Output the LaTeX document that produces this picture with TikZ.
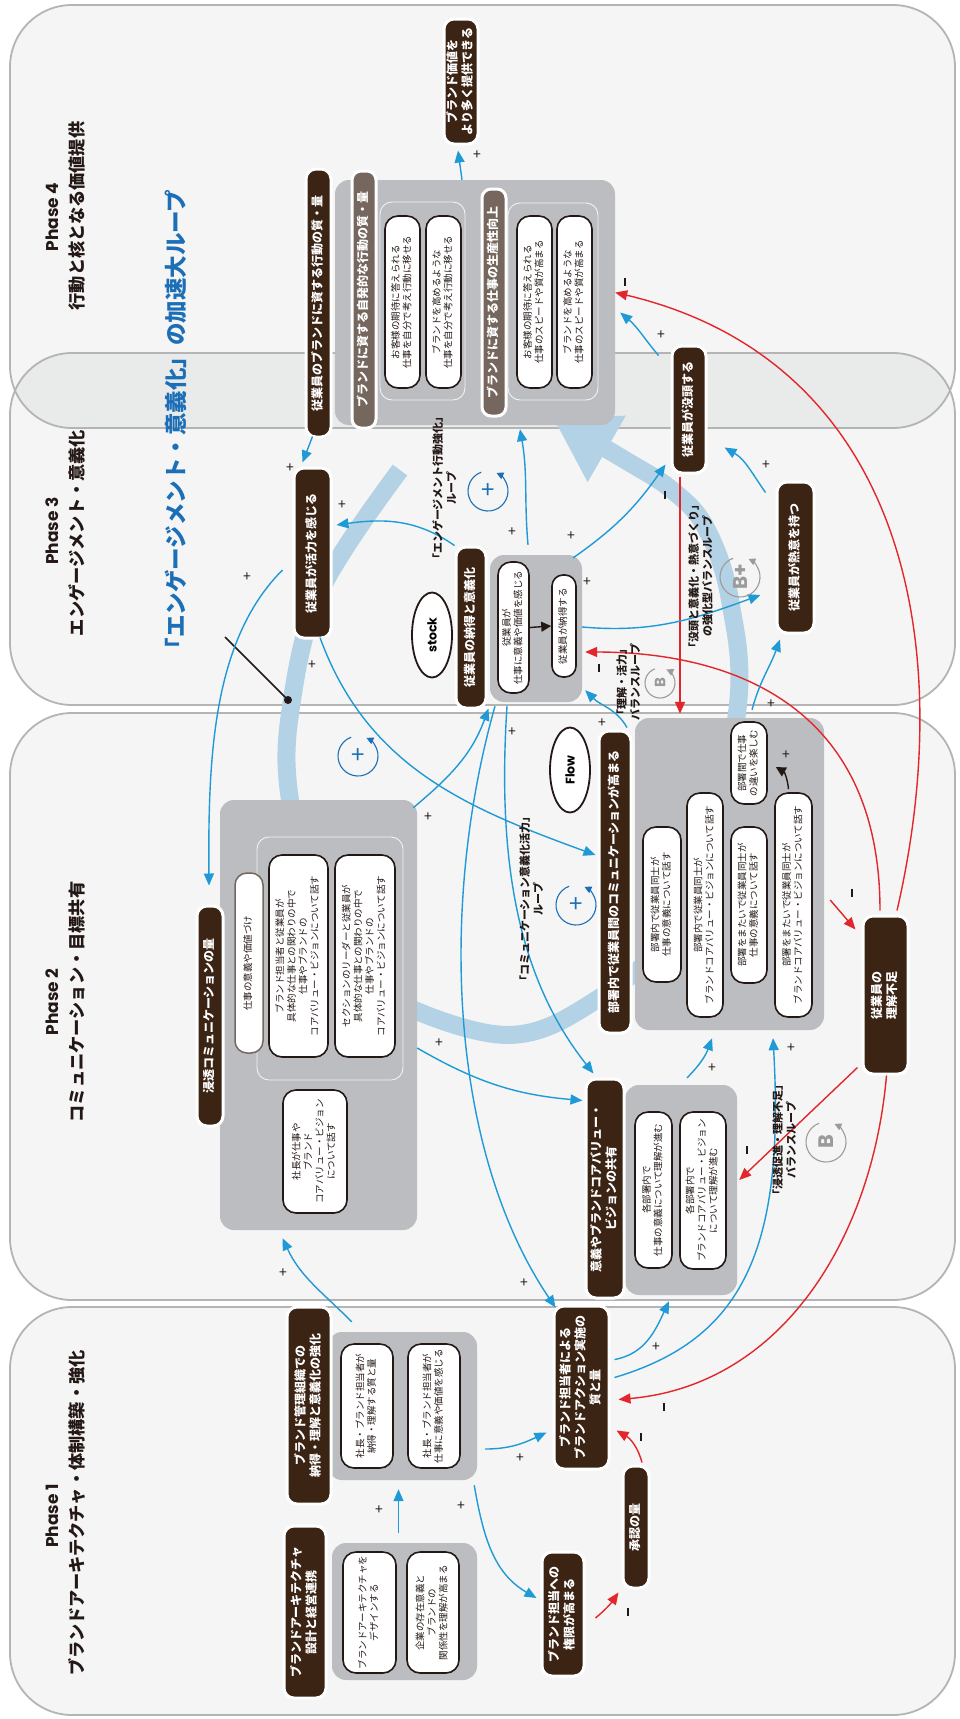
\documentclass[tikz,border=0pt]{standalone}
\usepackage{graphicx}
\usepackage{fontspec}
\setmainfont{Noto Sans CJK JP}
\newfontfamily\pop{Poppins}
\usetikzlibrary{arrows.meta,calc,shapes.geometric}

\definecolor{brn}{HTML}{3C2415}
\definecolor{lbl}{HTML}{75675D}
\definecolor{grp}{HTML}{BBBDC0}
\definecolor{pnl}{HTML}{F4F5F4}
\definecolor{pnlov}{HTML}{E9EAEA}
\definecolor{pnlb}{HTML}{B4B4B4}
\definecolor{ablue}{HTML}{1F9AD6}
\definecolor{ared}{HTML}{E2262B}
\definecolor{bandc}{HTML}{B3D2E5}
\definecolor{tblue}{HTML}{1C6FB6}
\definecolor{ink}{HTML}{231815}
\definecolor{mgray}{HTML}{9B9B9B}

% rotated, centred multi-line text
\newcommand{\rt}[1]{\rotatebox{90}{\begin{tabular}{@{}c@{}}#1\end{tabular}}}

\begin{document}
\begin{tikzpicture}[x=1pt,y=-1pt,
  panelfill/.style={fill=pnl, rounded corners=62pt},
  panelline/.style={draw=pnlb, line width=1.8pt, rounded corners=62pt},
  bnode/.style={fill=brn, draw=white, line width=3pt, rounded corners=10pt, text=white,
    font=\bfseries\fontsize{12}{15}\selectfont, inner sep=0pt},
  lblbox/.style={fill=lbl, draw=white, line width=3pt, rounded corners=9pt, text=white,
    font=\bfseries\fontsize{12}{14}\selectfont, inner sep=0pt},
  kbox/.style={fill=white, draw=lbl, line width=1.5pt, rounded corners=12pt, text=ink,
    font=\fontsize{9.5}{11.5}\selectfont, inner sep=0pt},
  pill/.style={fill=white, draw=ink, line width=1.6pt, rounded corners=13pt, text=ink,
    font=\fontsize{9.5}{11.6}\selectfont, inner sep=0pt},
  grpbox/.style={fill=grp, rounded corners=14pt, inner sep=0pt},
  subbox/.style={fill=grp, draw=white!80!grp, line width=0.9pt, rounded corners=12pt, inner sep=0pt},
  oval/.style={ellipse, fill=white, draw=ink, line width=1.8pt, minimum width=40pt,
    minimum height=85pt, inner sep=0pt, font=\pop\bfseries\fontsize{12.5}{13}\selectfont},
  barrow/.style={draw=ablue, line width=1.4pt, -{Triangle[length=12pt,width=10pt]}},
  rarrow/.style={draw=ared, line width=1.4pt, -{Triangle[length=12pt,width=10pt]}},
  karrow/.style={draw=ink, line width=1.4pt, -{Triangle[length=10pt,width=10pt]}},
  pol/.style={font=\fontsize{14}{14}\selectfont, text=ink, inner sep=0pt},
  neg/.style={fill=ink, minimum width=2.4pt, minimum height=8pt, inner sep=0pt},
  looplbl/.style={font=\bfseries\fontsize{11}{13.5}\selectfont, text=ink, inner sep=0pt},
  loopblue/.style={draw=tblue, line width=1.1pt, -{Triangle[length=7pt,width=7pt]}},
  loopgray/.style={draw=mgray, line width=1.1pt, -{Triangle[length=7pt,width=7pt]}},
  phn/.style={font=\pop\bfseries\fontsize{17}{17}\selectfont, text=ink, inner sep=0pt},
  pht/.style={font=\bfseries\fontsize{17.2}{17.2}\selectfont, text=ink, inner sep=0pt},
  bandpath/.style={draw=bandc, line width=18pt, -{Triangle[length=62pt,width=72pt]}}
]
\useasboundingbox (0,0) rectangle (960,1719);
\fill[white] (0,0) rectangle (960,1719);

% ---------- phase panels ----------
\fill[panelfill] (10,5) rectangle (955,428);
\fill[panelfill] (10,353) rectangle (955,705);
\fill[panelfill] (10,713) rectangle (955,1300);
\fill[panelfill] (10,1307) rectangle (955,1715);
\begin{scope}
  \clip[rounded corners=62pt] (10,5) rectangle (955,428);
  \fill[pnlov, rounded corners=62pt] (10,353) rectangle (955,705);
\end{scope}
\draw[panelline] (10,5) rectangle (955,428);
\draw[panelline] (10,353) rectangle (955,705);
\draw[panelline] (10,713) rectangle (955,1300);
\draw[panelline] (10,1307) rectangle (955,1715);

% ---------- phase titles ----------
\node[phn] (ph4) at (52,217) {\rotatebox{90}{Phase 4}};
\node[pht] (ph4t) at (77,216) {\rotatebox{90}{行動と核となる価値提供}};
\node[phn] (ph3) at (52,531) {\rotatebox{90}{Phase 3}};
\node[pht] (ph3t) at (77,533) {\rotatebox{90}{エンゲージメント・意義化}};
\node[phn] (ph2) at (52,1002) {\rotatebox{90}{Phase 2}};
\node[pht] (ph2t) at (77,1002) {\rotatebox{90}{コミュニケーション・目標共有}};
\node[phn] (ph1) at (52,1516) {\rotatebox{90}{Phase 1}};
\node[pht] (ph1t) at (77,1513) {\rotatebox{90}{ブランドアーキテクチャ・体制構築・強化}};

\node[font=\bfseries\fontsize{22.5}{22.5}\selectfont, text=tblue, inner sep=0pt] (title) at (176,425)
  {\rotatebox{90}{「エンゲージメント・意義化」の加速大ループ}};

% ---------- the big accelerating loop ----------
\draw[bandpath] plot[smooth, tension=0.6] coordinates {(400,470) (322,588) (292,700) (290,800)
  (330,955) (487,1033) (593,1002) (690,905) (737,713) (730,600) (706,528) (672,490) (625,460) (553,418)};

% pointer from the title to the loop
\coordinate (ptrA) at (225,637);
\coordinate (ptrB) at (288,700);
\draw[line width=1.5pt, ink] (ptrA) -- (ptrB);
\fill[ink] (ptrB) circle[radius=4pt];

% ---------- Phase 4 ----------
\node[bnode, minimum width=34pt, minimum height=125pt] (val) at (461,81.5) {\rt{ブランド価値を\\より多く提供できる}};
\node[bnode, minimum width=25pt, minimum height=268pt] (act) at (318.5,303) {\rt{従業員のブランドに資する行動の質・量}};
\node[grpbox, minimum width=280pt, minimum height=245pt] (g4) at (475,302.5) {};
\node[subbox, minimum width=85pt, minimum height=198pt] (sub4a) at (422.5,301) {};
\node[subbox, minimum width=90pt, minimum height=197pt] (sub4b) at (553,301.5) {};
\node[lblbox, minimum width=24pt, minimum height=257pt] (lab4a) at (364,299.5) {\rt{ブランドに資する自発的な行動の質・量}};
\node[lblbox, minimum width=24pt, minimum height=227pt] (lab4b) at (494,302.5) {\rt{ブランドに資する仕事の生産性向上}};
\node[pill, minimum width=35pt, minimum height=172pt] (p4a1) at (402.5,302) {\rt{お客様の期待に答えられる\\仕事を自分で考え行動に移せる}};
\node[pill, minimum width=35pt, minimum height=172pt] (p4a2) at (443.5,302) {\rt{ブランドを高めるような\\仕事を自分で考え行動に移せる}};
\node[pill, minimum width=35pt, minimum height=172pt] (p4b1) at (534.5,302) {\rt{お客様の期待に答えられる\\仕事のスピードや質が高まる}};
\node[pill, minimum width=35pt, minimum height=172pt] (p4b2) at (574.5,302) {\rt{ブランドを高めるような\\仕事のスピードや質が高まる}};

% ---------- Phase 3 ----------
\node[bnode, minimum width=34pt, minimum height=127pt] (botto) at (689,409.5) {\rt{従業員が没頭する}};
\node[bnode, minimum width=37pt, minimum height=151pt] (netsui) at (795.5,557.5) {\rt{従業員が熱意を持つ}};
\node[bnode, minimum width=37pt, minimum height=170pt] (katsu) at (312.5,553) {\rt{従業員が活力を感じる}};
\node[bnode, minimum width=30pt, minimum height=161pt] (natoku) at (471,627.5) {\rt{従業員の納得と意義化}};
\node[grpbox, minimum width=92pt, minimum height=147pt] (gstock) at (536,628.5) {};
\node[pill, minimum width=31pt, minimum height=131pt] (s1) at (513.5,627.5) {\rt{従業員が\\仕事に意義や価値を感じる}};
\node[pill, minimum width=24pt, minimum height=102pt, rounded corners=11pt] (s2) at (564,626) {\rt{従業員が納得する}};
\node[oval] (stock) at (432,635) {\rotatebox{90}{stock}};
\node[oval] (flow) at (570,770) {\rotatebox{90}{Flow}};

% ---------- Phase 2 ----------
\node[grpbox, minimum width=189pt, minimum height=312pt] (gflow) at (729.5,874) {};
\node[bnode, minimum width=32pt, minimum height=302pt] (comm) at (615,882) {\rt{部署内で従業員間のコミュニケーションが高まる}};
\node[pill, minimum width=36pt, minimum height=82pt] (f0) at (749,763) {\rt{部署間で仕事\\の違いを楽しむ}};
\node[pill, minimum width=38pt, minimum height=155pt] (f1) at (662,904.5) {\rt{部署内で従業員同士が\\仕事の意義について話す}};
\node[pill, minimum width=36pt, minimum height=224pt] (f2) at (705,905) {\rt{部署内で従業員同士が\\ブランドコアバリュー・ビジョンについて話す}};
\node[pill, minimum width=36pt, minimum height=156pt] (f3) at (749,905) {\rt{部署をまたいで従業員同士が\\仕事の意義について話す}};
\node[pill, minimum width=37pt, minimum height=224pt] (f4) at (793.5,905) {\rt{部署をまたいで従業員同士が\\ブランドコアバリュー・ビジョンについて話す}};
\node[bnode, minimum width=45pt, minimum height=158pt] (rikai) at (885.5,995) {\rt{従業員の\\理解不足}};
\node[grpbox, minimum width=112pt, minimum height=210pt] (gkyoyu) at (681,1190) {};
\node[bnode, minimum width=38pt, minimum height=219pt] (kyoyu) at (605,1188.5) {\rt{意義やブランドコアバリュー・\\ビジョンの共有}};
\node[pill, minimum width=37pt, minimum height=156pt] (k1) at (653.5,1190) {\rt{各部署内で\\仕事の意義について理解が進む}};
\node[pill, minimum width=46pt, minimum height=157pt] (k2) at (703,1190.5) {\rt{各部署内で\\ブランドコアバリュー・ビジョン\\について理解が進む}};
\node[grpbox, minimum width=197pt, minimum height=430pt] (g2) at (318.5,1015) {};
\node[subbox, minimum width=146pt, minimum height=243pt] (sub2) at (330,958.5) {};
\node[bnode, minimum width=26pt, minimum height=220pt] (shinto) at (210,1016) {\rt{浸透コミュニケーションの量}};
\node[kbox, minimum width=28pt, minimum height=180pt] (kachi) at (249,963) {\rt{仕事の意義や価値づけ}};
\node[pill, minimum width=59pt, minimum height=202pt] (c1) at (298.5,956) {\rt{ブランド担当者と従業員が\\具体的な仕事との関わりの中で\\仕事やブランドの\\コアバリュー・ビジョンについて話す}};
\node[pill, minimum width=60pt, minimum height=202pt] (c2) at (365,956) {\rt{セクションのリーダーと従業員が\\具体的な仕事との関わりの中で\\仕事やブランドの\\コアバリュー・ビジョンについて話す}};
\node[pill, minimum width=64pt, minimum height=123pt] (shacho) at (315,1151.5) {\rt{社長が仕事や\\ブランド\\コアバリュー・ビジョン\\について話す}};

% ---------- Phase 1 ----------
\node[grpbox, minimum width=145pt, minimum height=137pt] (g1a) at (404.5,1611.5) {};
\node[grpbox, minimum width=149pt, minimum height=148pt] (g1b) at (402.5,1406) {};
\node[bnode, minimum width=42pt, minimum height=172pt] (arch) at (305,1612) {\rt{ブランドアーキテクチャ\\設計と経営連携}};
\node[bnode, minimum width=44pt, minimum height=197pt] (kanri) at (309,1405.5) {\rt{ブランド管理組織での\\納得・理解と意義化の強化}};
\node[pill, minimum width=53pt, minimum height=121pt] (a1) at (369.5,1612.5) {\rt{ブランドアーキテクチャを\\デザインする}};
\node[pill, minimum width=52pt, minimum height=121pt] (a2) at (433,1612.5) {\rt{企業の存在意義と\\ブランドの\\関係性を理解が高まる}};
\node[pill, minimum width=52pt, minimum height=124pt] (b1) at (367,1406) {\rt{社長・ブランド担当者が\\納得・理解する質と量}};
\node[pill, minimum width=52pt, minimum height=124pt] (b2) at (434,1406) {\rt{社長・ブランド担当者が\\仕事に意義や価値を感じる}};
\node[bnode, minimum width=55pt, minimum height=163pt] (tanto) at (581.5,1387.5) {\rt{ブランド担当者による\\ブランドアクション実施の\\質と量}};
\node[bnode, minimum width=42pt, minimum height=124pt] (kengen) at (563,1614) {\rt{ブランド担当への\\権限が高まる}};
\node[bnode, minimum width=26pt, minimum height=122pt] (shonin) at (636,1527) {\rt{承認の量}};

% ---------- connectors: Phase 1 ----------
\draw[barrow] ($(g1a.north)+(-6,-10)$) -- ($(g1b.south)+(-4,9)$);
\draw[barrow] ($(g1b.east)+(8,43)$) to[out=0,in=205] ($(tanto.west)+(-6,45)$);
\draw[barrow] ($(g1b.south east)+(-3,5)$) to[out=-80,in=150] ($(kengen.west)+(-4,-16)$);
\draw[rarrow] ($(kengen.east)+(10,4)$) to[out=40,in=235] ($(shonin.south west)+(-3,3)$);
\draw[rarrow] ($(shonin.north)+(6,-2)$) to[out=105,in=-30] ($(tanto.south east)+(6,-40)$);
\draw[rarrow] ($(rikai.south)+(1,0)$) to[out=-95,in=5] ($(tanto.east)+(8,12)$);
\draw[barrow] ($(tanto.east)+(4,-28)$) to[out=10,in=-115] ($(gkyoyu.south)+(-12,6)$);
\draw[barrow] ($(tanto.east)+(4,-10)$) .. controls +(128,-38) and +(12,212) .. ($(gflow.south)+(43.5,8)$);
\draw[barrow] ($(g1b.north west)+(24,-10)$) to[out=135,in=-65] ($(g2.south)+(-36,8)$);

% ---------- connectors: Phase 2 ----------
\draw[barrow] ($(gstock.south)+(-41,4)$) .. controls +(-55,194) and +(-108,-160) .. ($(tanto.north west)+(3,3)$);
\draw[barrow] ($(gstock.south)+(-29,4)$) .. controls +(-10,154) and +(-76,-96) .. ($(kyoyu.north west)+(9,-4)$);
\draw[barrow] ($(g2.north east)+(-4,8)$) to[out=40,in=-110] ($(natoku.south east)+(1,-1)$);
\draw[barrow] ($(g2.east)+(0,33)$) to[out=-30,in=175] ($(kyoyu.west)+(-2,-88)$);
\draw[barrow] ($(gkyoyu.north)+(6,-7)$) to[out=45,in=-110] ($(gflow.south)+(-17.5,8)$);
\draw[rarrow] ($(rikai.south west)+(-4,-8)$) -- ($(gkyoyu.east)+(2,-10)$);
\draw[rarrow] ($(gflow.east)+(6,26)$) -- ($(rikai.north west)+(-6,15)$);
\draw[karrow] ($(f4.north)+(-5,-3)$) to[out=95,in=-30] ($(f0.east)+(8,4)$);

% ---------- connectors: Phase 3 / 4 ----------
\draw[rarrow] ($(rikai.north)+(11.5,-4)$) .. controls +(63,-273) and +(285,67.5) .. ($(g4.east)+(0,-10)$);
\draw[rarrow] ($(rikai.north)+(-5.5,-4)$) .. controls +(0,-213) and +(135,0) .. ($(gstock.east)+(3,23.5)$);
\draw[rarrow] ($(botto.south)+(-9,2)$) -- ($(gflow.north)+(-49.5,-4)$);
\draw[barrow] ($(g4.north)+(-13,0)$) -- ($(val.south)+(-3,5)$);
\draw[barrow] ($(botto.north west)+(-12,11)$) to[out=130,in=-40] ($(g4.east)+(5,10)$);
\draw[barrow] ($(netsui.north west)+(-10,12)$) to[out=125,in=-30] ($(botto.east)+(17,38)$);
\draw[barrow] ($(gflow.north)+(22.5,-8)$) to[out=75,in=-110] ($(netsui.south)+(-15.5,5)$);
\draw[barrow] ($(gstock.east)+(0,-1.5)$) to[out=-5,in=200] ($(netsui.west)+(-15,37.5)$);
\draw[barrow] ($(gstock.north east)+(-9,3)$) to[out=35,in=235] ($(botto.south west)+(-5,-10)$);
\draw[barrow] ($(gstock.north)+(-8,-10)$) to[out=95,in=-80] ($(g4.south)+(45,4)$);
\draw[barrow] (natoku.north west) to[out=145,in=8] ($(katsu.east)+(4,-28)$);
\draw[barrow] ($(act.south)+(-6,-2)$) -- ($(katsu.north)+(-10,-4)$);
\draw[barrow] ($(katsu.west)+(-10,17)$) .. controls +(-70,70) and +(-1,-128) .. ($(shinto.north)+(-1,-19)$);
\draw[barrow] ($(katsu.south)+(7.5,-2)$) to[out=-70,in=160] ($(comm.west)+(-2,-27)$);
\draw[barrow] ($(comm.north)+(12,-2)$) to[out=120,in=-45] ($(gstock.south east)+(3,-12)$);
\draw[karrow] (s1.east) -- (s2.west);

% ---------- polarity marks ----------
\node[pol] (q1) at (379,1510) {+};
\node[pol] (q2) at (520,1458) {+};
\node[pol] (q3) at (461,1506) {+};
\node[pol] (q4) at (656,1347) {+};
\node[pol] (q5) at (791,1048) {+};
\node[pol] (q6) at (524,1283) {+};
\node[pol] (q7) at (512,732) {+};
\node[pol] (q8) at (428,817) {+};
\node[pol] (q9) at (439,1043) {+};
\node[pol] (q10) at (712,1068) {+};
\node[pol] (q11) at (477,155) {+};
\node[pol] (q12) at (661,335) {+};
\node[pol] (q13) at (766,465) {+};
\node[pol] (q14) at (771,704) {+};
\node[pol] (q15) at (587,582) {+};
\node[pol] (q16) at (571,536) {+};
\node[pol] (q17) at (512,532) {+};
\node[pol] (q18) at (342,505) {+};
\node[pol] (q19) at (290,468) {+};
\node[pol] (q20) at (247,577) {+};
\node[pol] (q21) at (312,665) {+};
\node[pol] (q22) at (602,723) {+};
\node[pol] (q23) at (283,1273) {+};
\node[pol] (q24) at (786,755) {+};
\node[neg] (n1) at (628,1612) {};
\node[neg] (n2) at (641,1437) {};
\node[neg] (n3) at (664,1407) {};
\node[neg] (n4) at (747,1150) {};
\node[neg] (n5) at (852,893) {};
\node[neg] (n6) at (625,282) {};
\node[neg] (n7) at (599,668) {};
\node[neg] (n8) at (665,495) {};

% ---------- loop markers ----------
\coordinate (M1) at (488,491);
\coordinate (M2) at (358,756);
\coordinate (M3) at (576,905);
\coordinate (M4) at (740,577);
\coordinate (M5) at (660,683);
\coordinate (M6) at (826,1142);
\draw[loopblue] (M1) ++(110:20pt) arc[start angle=110,end angle=425,radius=20pt];
\draw[loopblue] (M2) ++(110:20pt) arc[start angle=110,end angle=425,radius=20pt];
\draw[loopblue] (M3) ++(110:20pt) arc[start angle=110,end angle=425,radius=20pt];
\draw[loopgray] (M4) ++(110:20pt) arc[start angle=110,end angle=425,radius=20pt];
\draw[loopgray] (M5) ++(110:15pt) arc[start angle=110,end angle=425,radius=15pt];
\draw[loopgray] (M6) ++(110:20pt) arc[start angle=110,end angle=425,radius=20pt];
\node[text=tblue, font=\fontsize{24}{24}\selectfont, inner sep=0pt] (M1t) at (M1) {+};
\node[text=tblue, font=\fontsize{24}{24}\selectfont, inner sep=0pt] (M2t) at (M2) {+};
\node[text=tblue, font=\fontsize{24}{24}\selectfont, inner sep=0pt] (M3t) at (M3) {+};
\node[text=mgray, font=\pop\bfseries\fontsize{20}{20}\selectfont, inner sep=0pt] (M4t) at (M4) {\rotatebox{90}{B+}};
\node[text=mgray, font=\pop\bfseries\fontsize{15}{15}\selectfont, inner sep=0pt] (M5t) at (M5) {\rotatebox{90}{B}};
\node[text=mgray, font=\pop\bfseries\fontsize{21}{21}\selectfont, inner sep=0pt] (M6t) at (M6) {\rotatebox{90}{B}};

% ---------- loop names ----------
\node[looplbl] (L1) at (446,488) {\rt{「エンゲージメント行動強化」\\ループ}};
\node[looplbl] (L2) at (533,899) {\rt{「コミュニケーション意義化活力」\\ループ}};
\node[looplbl] (L3) at (630,682) {\rt{「理解・活力」\\バランスループ}};
\node[looplbl] (L4) at (702,576) {\rt{「没頭と意義化・熱意づくり」\\の強化型バランスループ}};
\node[looplbl] (L5) at (786,1140) {\rt{「浸透促進・理解不足」\\バランスループ}};

\end{tikzpicture}
\end{document}
